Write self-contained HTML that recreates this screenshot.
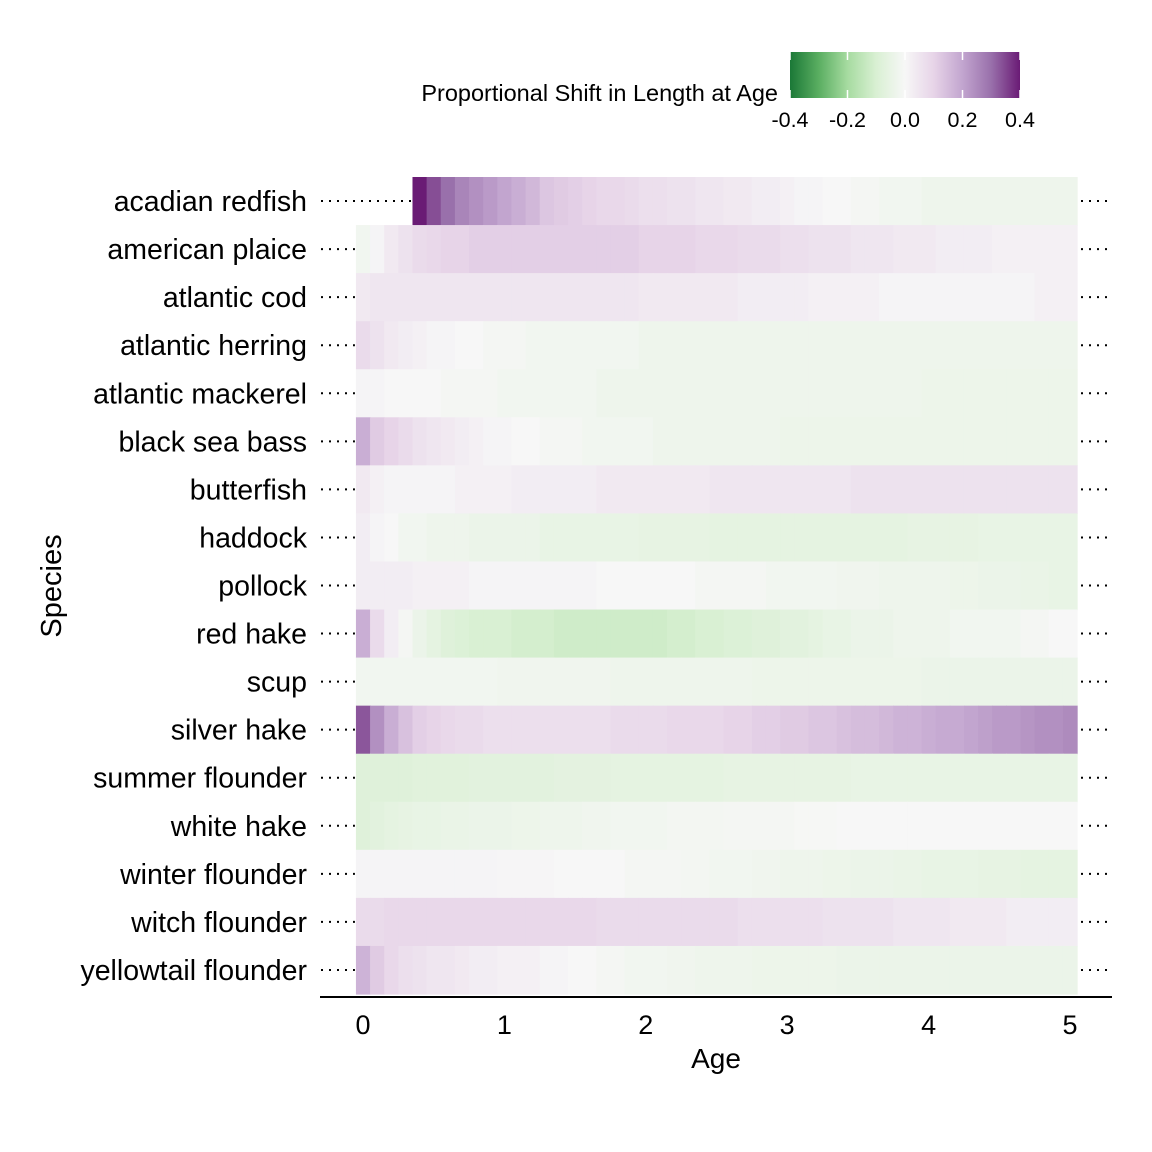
<!DOCTYPE html>
<html><head><meta charset="utf-8"><style>
html,body{margin:0;padding:0;background:#fff;}
svg{display:block;font-family:"Liberation Sans",Arial,sans-serif;}
</style></head><body>
<svg id="chart" width="1152" height="1152" viewBox="0 0 1152 1152" xmlns="http://www.w3.org/2000/svg">
<defs>
<linearGradient id="cbar" x1="0" x2="1" y1="0" y2="0">
<stop offset="0" stop-color="#1b7837"/><stop offset="0.125" stop-color="#5aae61"/>
<stop offset="0.25" stop-color="#a6dba0"/><stop offset="0.375" stop-color="#d9f0d3"/>
<stop offset="0.5" stop-color="#f7f7f7"/><stop offset="0.625" stop-color="#e7d4e8"/>
<stop offset="0.75" stop-color="#c2a5cf"/><stop offset="0.875" stop-color="#9970ab"/>
<stop offset="1" stop-color="#6a1b75"/>
</linearGradient>
</defs>
<g id="tiles"></g>
<g id="labels"></g>
<line x1="320" y1="997" x2="1112" y2="997" stroke="#000" stroke-width="2"/>
<text x="716" y="1068" font-size="28" text-anchor="middle">Age</text>
<text transform="translate(61,586) rotate(-90)" font-size="29" text-anchor="middle">Species</text>
<g>
<text x="778" y="101" font-size="23.5" text-anchor="end">Proportional Shift in Length at Age</text>
<rect x="790" y="52" width="230" height="46" fill="url(#cbar)"/>
<g id="cbticks"></g>
</g>
</svg>
<script>
const species=["acadian redfish","american plaice","atlantic cod","atlantic herring","atlantic mackerel","black sea bass","butterfish","haddock","pollock","red hake","scup","silver hake","summer flounder","white hake","winter flounder","witch flounder","yellowtail flounder"];
const ages=[0,0.1,0.2,0.3,0.4,0.5,0.6,0.7,0.8,0.9,1,1.1,1.2,1.3,1.4,1.5,1.6,1.7,1.8,1.9,2,2.1,2.2,2.3,2.4,2.5,2.6,2.7,2.8,2.9,3,3.1,3.2,3.3,3.4,3.5,3.6,3.7,3.8,3.9,4,4.1,4.2,4.3,4.4,4.5,4.6,4.7,4.8,4.9,5];
const xTicks=[0,1,2,3,4,5];
const legendTicks=[-0.4,-0.2,0,0.2,0.4];
const legendTickLabels=["-0.4","-0.2","0.0","0.2","0.4"];
const acadianRedfish=[null,null,null,null,0.40,0.34,0.30,0.26,0.24,0.22,0.20,0.18,0.16,0.13,0.12,0.11,0.10,0.09,0.09,0.08,0.07,0.07,0.06,0.06,0.05,0.05,0.04,0.04,0.03,0.03,0.02,0.01,0.01,0.00,0.00,-0.01,-0.01,-0.02,-0.02,-0.02,-0.03,-0.03,-0.03,-0.03,-0.03,-0.03,-0.03,-0.03,-0.03,-0.03,-0.03];
const americanPlaice=[-0.02,0.01,0.04,0.06,0.08,0.09,0.10,0.10,0.11,0.11,0.11,0.11,0.11,0.11,0.11,0.11,0.11,0.11,0.11,0.11,0.10,0.10,0.10,0.10,0.09,0.09,0.09,0.08,0.08,0.08,0.07,0.07,0.06,0.06,0.06,0.05,0.05,0.05,0.04,0.04,0.04,0.03,0.03,0.03,0.03,0.02,0.02,0.02,0.02,0.02,0.02];
const atlanticCod=[0.04,0.05,0.05,0.05,0.05,0.05,0.05,0.05,0.05,0.05,0.05,0.05,0.05,0.05,0.05,0.05,0.05,0.05,0.05,0.05,0.04,0.04,0.04,0.04,0.04,0.04,0.04,0.03,0.03,0.03,0.03,0.03,0.02,0.02,0.02,0.02,0.02,0.01,0.01,0.01,0.01,0.01,0.01,0.01,0.01,0.01,0.01,0.01,0.02,0.02,0.02];
const atlanticHerring=[0.08,0.06,0.04,0.03,0.02,0.01,0.01,0.00,0.00,-0.01,-0.01,-0.01,-0.02,-0.02,-0.02,-0.02,-0.02,-0.02,-0.02,-0.02,-0.03,-0.03,-0.03,-0.03,-0.03,-0.03,-0.03,-0.03,-0.03,-0.03,-0.03,-0.03,-0.03,-0.03,-0.03,-0.03,-0.03,-0.03,-0.03,-0.03,-0.03,-0.03,-0.03,-0.03,-0.03,-0.03,-0.03,-0.03,-0.03,-0.03,-0.03];
const atlanticMackerel=[0.01,0.01,0.00,0.00,0.00,0.00,-0.01,-0.01,-0.01,-0.01,-0.02,-0.02,-0.02,-0.02,-0.02,-0.02,-0.02,-0.03,-0.03,-0.03,-0.03,-0.03,-0.03,-0.03,-0.03,-0.03,-0.03,-0.03,-0.03,-0.03,-0.03,-0.03,-0.03,-0.03,-0.03,-0.03,-0.03,-0.03,-0.03,-0.03,-0.035,-0.035,-0.035,-0.035,-0.035,-0.035,-0.035,-0.035,-0.035,-0.035,-0.035];
const blackSeaBass=[0.18,0.12,0.10,0.08,0.06,0.05,0.04,0.03,0.02,0.01,0.01,0.00,0.00,-0.01,-0.01,-0.01,-0.02,-0.02,-0.02,-0.02,-0.02,-0.03,-0.03,-0.03,-0.03,-0.03,-0.03,-0.03,-0.03,-0.03,-0.035,-0.035,-0.035,-0.035,-0.035,-0.035,-0.035,-0.035,-0.035,-0.035,-0.035,-0.035,-0.035,-0.035,-0.035,-0.035,-0.035,-0.035,-0.035,-0.035,-0.035];
const butterfish=[0.04,0.02,0.01,0.01,0.01,0.01,0.01,0.02,0.02,0.02,0.02,0.03,0.03,0.03,0.03,0.03,0.03,0.04,0.04,0.04,0.04,0.04,0.04,0.04,0.04,0.05,0.05,0.05,0.05,0.05,0.05,0.05,0.05,0.05,0.05,0.06,0.06,0.06,0.06,0.06,0.06,0.06,0.06,0.06,0.06,0.06,0.06,0.06,0.06,0.06,0.06];
const haddock=[0.03,0.01,0.00,-0.02,-0.02,-0.03,-0.03,-0.03,-0.04,-0.04,-0.04,-0.04,-0.04,-0.05,-0.05,-0.05,-0.05,-0.05,-0.05,-0.05,-0.055,-0.055,-0.055,-0.055,-0.055,-0.06,-0.06,-0.06,-0.06,-0.06,-0.06,-0.06,-0.06,-0.06,-0.06,-0.06,-0.06,-0.06,-0.06,-0.055,-0.055,-0.055,-0.055,-0.055,-0.05,-0.05,-0.05,-0.05,-0.05,-0.05,-0.05];
const pollock=[0.03,0.03,0.03,0.03,0.02,0.02,0.02,0.02,0.01,0.01,0.01,0.01,0.01,0.01,0.01,0.01,0.01,0.00,0.00,0.00,0.00,0.00,0.00,0.00,-0.01,-0.01,-0.01,-0.01,-0.01,-0.02,-0.02,-0.02,-0.02,-0.02,-0.025,-0.025,-0.025,-0.03,-0.03,-0.03,-0.03,-0.03,-0.035,-0.035,-0.04,-0.04,-0.04,-0.045,-0.045,-0.05,-0.05];
const redHake=[0.18,0.08,0.03,-0.01,-0.04,-0.06,-0.08,-0.09,-0.10,-0.10,-0.10,-0.11,-0.11,-0.11,-0.12,-0.12,-0.12,-0.12,-0.12,-0.12,-0.12,-0.12,-0.11,-0.11,-0.10,-0.10,-0.09,-0.09,-0.08,-0.08,-0.07,-0.07,-0.06,-0.05,-0.05,-0.04,-0.04,-0.04,-0.03,-0.03,-0.03,-0.03,-0.02,-0.02,-0.02,-0.02,-0.02,-0.01,-0.01,0.00,0.00];
const scup=[-0.02,-0.02,-0.02,-0.02,-0.02,-0.02,-0.02,-0.02,-0.02,-0.02,-0.025,-0.025,-0.025,-0.025,-0.025,-0.025,-0.025,-0.025,-0.03,-0.03,-0.03,-0.03,-0.03,-0.03,-0.03,-0.03,-0.03,-0.03,-0.035,-0.035,-0.035,-0.035,-0.035,-0.035,-0.035,-0.035,-0.035,-0.035,-0.035,-0.035,-0.04,-0.04,-0.04,-0.04,-0.04,-0.04,-0.04,-0.04,-0.04,-0.04,-0.04];
const silverHake=[0.33,0.24,0.18,0.14,0.11,0.10,0.09,0.08,0.08,0.07,0.07,0.07,0.07,0.07,0.07,0.07,0.07,0.07,0.08,0.08,0.08,0.08,0.09,0.09,0.09,0.09,0.10,0.10,0.11,0.11,0.12,0.12,0.13,0.13,0.14,0.15,0.15,0.16,0.17,0.17,0.18,0.19,0.19,0.20,0.21,0.22,0.22,0.23,0.24,0.24,0.25];
const summerFlounder=[-0.08,-0.08,-0.08,-0.08,-0.075,-0.075,-0.075,-0.075,-0.07,-0.07,-0.07,-0.07,-0.07,-0.07,-0.065,-0.065,-0.065,-0.065,-0.06,-0.06,-0.06,-0.06,-0.06,-0.06,-0.06,-0.06,-0.055,-0.055,-0.055,-0.055,-0.055,-0.055,-0.055,-0.055,-0.055,-0.05,-0.05,-0.05,-0.05,-0.05,-0.05,-0.05,-0.05,-0.05,-0.05,-0.05,-0.05,-0.05,-0.05,-0.05,-0.05];
const whiteHake=[-0.08,-0.07,-0.06,-0.055,-0.05,-0.05,-0.045,-0.045,-0.04,-0.04,-0.04,-0.035,-0.035,-0.03,-0.03,-0.03,-0.025,-0.025,-0.02,-0.02,-0.02,-0.02,-0.015,-0.015,-0.015,-0.015,-0.01,-0.01,-0.01,-0.01,-0.01,-0.005,-0.005,-0.005,0.00,0.00,0.00,0.00,0.00,0.00,0.00,0.00,0.00,0.00,0.00,0.00,0.00,0.00,0.00,0.00,0.00];
const winterFlounder=[0.01,0.01,0.01,0.01,0.01,0.01,0.01,0.01,0.01,0.01,0.005,0.005,0.005,0.005,0.00,0.00,0.00,0.00,0.00,-0.01,-0.01,-0.01,-0.01,-0.015,-0.015,-0.02,-0.02,-0.02,-0.025,-0.025,-0.03,-0.03,-0.03,-0.035,-0.035,-0.04,-0.04,-0.04,-0.045,-0.045,-0.05,-0.05,-0.05,-0.05,-0.055,-0.055,-0.055,-0.06,-0.06,-0.06,-0.06];
const witchFlounder=[0.08,0.08,0.09,0.09,0.09,0.09,0.09,0.09,0.09,0.09,0.09,0.09,0.09,0.09,0.09,0.09,0.09,0.08,0.08,0.08,0.08,0.08,0.08,0.08,0.08,0.08,0.08,0.07,0.07,0.07,0.07,0.07,0.07,0.06,0.06,0.06,0.06,0.06,0.05,0.05,0.05,0.05,0.04,0.04,0.04,0.04,0.03,0.03,0.03,0.03,0.03];
const yellowtailFlounder=[0.17,0.12,0.09,0.07,0.06,0.05,0.05,0.04,0.03,0.03,0.02,0.02,0.02,0.01,0.01,0.00,0.00,-0.01,-0.01,-0.02,-0.02,-0.02,-0.025,-0.025,-0.03,-0.03,-0.03,-0.03,-0.035,-0.035,-0.035,-0.035,-0.035,-0.035,-0.04,-0.04,-0.04,-0.04,-0.04,-0.04,-0.04,-0.04,-0.04,-0.04,-0.04,-0.04,-0.04,-0.04,-0.04,-0.04,-0.04];
const seriesList=[acadianRedfish,americanPlaice,atlanticCod,atlanticHerring,atlanticMackerel,blackSeaBass,butterfish,haddock,pollock,redHake,scup,silverHake,summerFlounder,whiteHake,winterFlounder,witchFlounder,yellowtailFlounder];

const NS="http://www.w3.org/2000/svg";
function xScale(a){return 363+a*141.4;}
const rowTop=177, rowH=817/17;
function yScale(i){return rowTop+i*rowH;}
const stops=[[-0.4,[27,120,55]],[-0.3,[90,174,97]],[-0.2,[166,219,160]],[-0.1,[217,240,211]],[0,[247,247,247]],[0.1,[231,212,232]],[0.2,[194,165,207]],[0.3,[153,112,171]],[0.4,[106,27,117]]];
function colorScale(v){
  v=Math.max(-0.4,Math.min(0.4,v));
  for(let k=0;k<stops.length-1;k++){
    const a=stops[k],b=stops[k+1];
    if(v<=b[0]){const t=(v-a[0])/(b[0]-a[0]);
      const c=a[1].map((x,j)=>Math.round(x+(b[1][j]-x)*t));
      return "rgb("+c.join(",")+")";}
  }
  return "rgb(106,27,117)";
}
const tiles=document.getElementById("tiles");
const labels=document.getElementById("labels");
const tw=14.14;
species.forEach((sp,i)=>{
  const vals=seriesList[i];
  const y=yScale(i);
  let firstX=null;
  ages.forEach((a,j)=>{
    const v=vals[j];
    if(v===null||v===undefined) return;
    const x=xScale(a)-tw/2;
    if(firstX===null) firstX=x;
    const r=document.createElementNS(NS,"rect");
    r.setAttribute("x",x.toFixed(2));r.setAttribute("y",y.toFixed(2));
    r.setAttribute("width",(tw+0.6).toFixed(2));r.setAttribute("height",(rowH+0.6).toFixed(2));
    r.setAttribute("fill",colorScale(v));
    
    
    tiles.appendChild(r);
  });
  const cy=y+rowH/2;
  const t=document.createElementNS(NS,"text");
  t.setAttribute("x",307);t.setAttribute("y",cy+10);t.setAttribute("font-size","28.5");t.setAttribute("text-anchor","end");
  t.textContent=sp;
  
  
  labels.appendChild(t);
  const l1=document.createElementNS(NS,"line");
  l1.setAttribute("x1",321);l1.setAttribute("x2",firstX-1);l1.setAttribute("y1",cy);l1.setAttribute("y2",cy);
  l1.setAttribute("stroke","#000");l1.setAttribute("stroke-width","2");l1.setAttribute("stroke-dasharray","2,6");
  
  
  labels.appendChild(l1);
  const l2=document.createElementNS(NS,"line");
  l2.setAttribute("x1",1081);l2.setAttribute("x2",1113);l2.setAttribute("y1",cy);l2.setAttribute("y2",cy);
  l2.setAttribute("stroke","#000");l2.setAttribute("stroke-width","2");l2.setAttribute("stroke-dasharray","2,6");
  
  
  labels.appendChild(l2);
});
xTicks.forEach(a=>{
  const t=document.createElementNS(NS,"text");
  t.setAttribute("x",xScale(a));t.setAttribute("y",1034);t.setAttribute("font-size","27");t.setAttribute("text-anchor","middle");
  t.textContent=String(a);
  
  
  labels.appendChild(t);
});
const cb=document.getElementById("cbticks");
function lx(v){return 790+(v+0.4)/0.8*230;}
legendTicks.forEach((v,k)=>{
  const x=lx(v);
  [[52,60],[90,98]].forEach(p=>{
    const l=document.createElementNS(NS,"line");
    l.setAttribute("x1",x);l.setAttribute("x2",x);l.setAttribute("y1",p[0]);l.setAttribute("y2",p[1]);
    l.setAttribute("stroke","#fff");l.setAttribute("stroke-width","1.5");
    
    
    cb.appendChild(l);
  });
  const t=document.createElementNS(NS,"text");
  t.setAttribute("x",x);t.setAttribute("y",127);t.setAttribute("font-size","21.5");t.setAttribute("text-anchor","middle");
  t.textContent=legendTickLabels[k];
  
  
  cb.appendChild(t);
});
</script>
</body></html>
